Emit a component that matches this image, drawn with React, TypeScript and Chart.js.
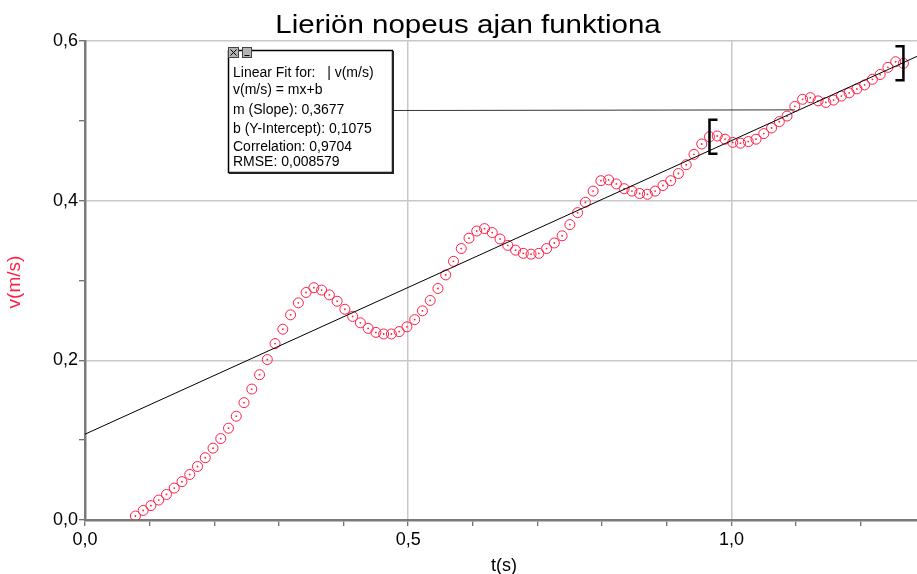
import React, { useEffect, useRef } from 'react';
import { Chart, registerables } from 'chart.js';

Chart.register(...registerables);

// ---- data ----
const TIME_S = [
  0.078, 0.090, 0.102, 0.114, 0.126, 0.138, 0.150, 0.162, 0.174, 0.186,
  0.198, 0.210, 0.222, 0.234, 0.246, 0.258, 0.270, 0.282, 0.294, 0.306,
  0.318, 0.330, 0.342, 0.354, 0.366, 0.378, 0.390, 0.402, 0.414, 0.426,
  0.438, 0.450, 0.462, 0.474, 0.486, 0.498, 0.510, 0.522, 0.534, 0.546,
  0.558, 0.570, 0.582, 0.594, 0.606, 0.618, 0.630, 0.642, 0.654, 0.666,
  0.678, 0.690, 0.702, 0.714, 0.726, 0.738, 0.750, 0.762, 0.774, 0.786,
  0.798, 0.810, 0.822, 0.834, 0.846, 0.858, 0.870, 0.882, 0.894, 0.906,
  0.918, 0.930, 0.942, 0.954, 0.966, 0.978, 0.990, 1.002, 1.014, 1.026,
  1.038, 1.050, 1.062, 1.074, 1.086, 1.098, 1.110, 1.122, 1.134, 1.146,
  1.158, 1.170, 1.182, 1.194, 1.206, 1.218, 1.230, 1.242, 1.254, 1.266,
];

const SPEED_MS = [
  0.005, 0.012, 0.018, 0.025, 0.032, 0.040, 0.048, 0.057, 0.067, 0.078,
  0.090, 0.102, 0.115, 0.130, 0.147, 0.164, 0.182, 0.201, 0.221, 0.239,
  0.257, 0.272, 0.285, 0.291, 0.288, 0.282, 0.274, 0.264, 0.255, 0.247,
  0.240, 0.235, 0.233, 0.233, 0.236, 0.242, 0.251, 0.262, 0.275, 0.290,
  0.307, 0.324, 0.340, 0.353, 0.362, 0.365, 0.360, 0.352, 0.344, 0.338,
  0.334, 0.333, 0.334, 0.340, 0.347, 0.356, 0.370, 0.385, 0.398, 0.412,
  0.425, 0.426, 0.421, 0.415, 0.412, 0.409, 0.408, 0.412, 0.419, 0.425,
  0.434, 0.445, 0.458, 0.471, 0.480, 0.481, 0.477, 0.473, 0.472, 0.474,
  0.477, 0.484, 0.491, 0.499, 0.506, 0.518, 0.527, 0.529, 0.525, 0.523,
  0.526, 0.531, 0.535, 0.540, 0.545, 0.552, 0.558, 0.567, 0.574, 0.572,
];

const FIT_SLOPE = 0.3677;
const FIT_INTERCEPT = 0.1075;
const FIT_RANGE = [0.966, 1.266];
const FIT_LABEL_T = 1.098;

const X_RANGE = [0, 1.287];
const Y_RANGE = [0, 0.6];
const X_MINOR_STEP = 0.1;
const X_MAJOR_STEP = 0.5;
const Y_MINOR_STEP = 0.1;
const Y_MAJOR_STEP = 0.2;

const TITLE = 'Lieriön nopeus ajan funktiona';
const X_TITLE = 't(s)';
const Y_TITLE = 'v(m/s)';
const FIT_INFO = [
  'Linear Fit for:   | v(m/s)',
  'v(m/s) = mx+b',
  'm (Slope): 0,3677',
  'b (Y-Intercept): 0,1075',
  'Correlation: 0,9704',
  'RMSE: 0,008579',
];

const FONT = '"Liberation Sans", Arial, sans-serif';
const RED = 'rgb(255, 30, 70)';

const isMajor = (v: number, minor: number, major: number) => {
  const k = Math.round(v / minor);
  const m = Math.round(major / minor);
  return k % m === 0;
};
const fmt = (v: number) => v.toFixed(1).replace('.', ',');

const overlayPlugin = {
  id: 'overlay',
  afterDraw(chart: any) {
    const ctx = chart.ctx as CanvasRenderingContext2D;
    const xs = chart.scales.x;
    const ys = chart.scales.y;
    ctx.save();

    // Title (slightly wide face as in the reference)
    ctx.fillStyle = '#000';
    ctx.font = `25px ${FONT}`;
    ctx.textAlign = 'center';
    ctx.textBaseline = 'alphabetic';
    ctx.save();
    ctx.translate(468, 33);
    ctx.scale(1.18, 1);
    ctx.fillText(TITLE, 0, 0);
    ctx.restore();

    // X axis title
    ctx.font = `18px ${FONT}`;
    ctx.fillText(X_TITLE, 504, 571);

    // Y axis title
    ctx.save();
    ctx.translate(15, 282);
    ctx.rotate(-Math.PI / 2);
    ctx.fillStyle = RED;
    ctx.font = `19px ${FONT}`;
    ctx.textBaseline = 'middle';
    ctx.fillText(Y_TITLE, 0, 0);
    ctx.restore();

    // Connector from the info box to the fit line
    const fitAt = (t: number) => FIT_SLOPE * t + FIT_INTERCEPT;
    ctx.strokeStyle = '#333';
    ctx.lineWidth = 1;
    ctx.beginPath();
    ctx.moveTo(392, 110.5);
    ctx.lineTo(xs.getPixelForValue(FIT_LABEL_T), ys.getPixelForValue(fitAt(FIT_LABEL_T)) - 2);
    ctx.stroke();

    // Fit range brackets
    const nearest = (t: number) => {
      let best = 0;
      for (let i = 0; i < TIME_S.length; i++) {
        if (Math.abs(TIME_S[i] - t) < Math.abs(TIME_S[best] - t)) best = i;
      }
      return SPEED_MS[best];
    };
    ctx.strokeStyle = '#000';
    ctx.lineWidth = 2.5;
    FIT_RANGE.forEach((t, i) => {
      const px = xs.getPixelForValue(t);
      const py = ys.getPixelForValue(nearest(t));
      const dir = i === 0 ? 1 : -1;
      ctx.beginPath();
      ctx.moveTo(px + dir * 8, py - 17);
      ctx.lineTo(px, py - 17);
      ctx.lineTo(px, py + 17);
      ctx.lineTo(px + dir * 8, py + 17);
      ctx.stroke();
    });

    // Info box
    const bx = 228, by = 50, bw = 164, bh = 122;
    ctx.fillStyle = '#fff';
    ctx.fillRect(bx, by, bw, bh);
    ctx.strokeStyle = '#000';
    ctx.lineWidth = 1.5;
    ctx.strokeRect(bx + 0.5, by + 0.5, bw, bh);
    ctx.fillStyle = '#222';
    ctx.fillRect(bx + bw, by + 1, 2, bh + 1);
    ctx.fillRect(bx + 1, by + bh, bw + 1, 2);

    // small window buttons
    ctx.fillStyle = '#b4b4b4';
    ctx.fillRect(228, 47, 11, 11);
    ctx.fillRect(242, 47, 10, 11);
    ctx.strokeStyle = '#444';
    ctx.lineWidth = 1;
    ctx.strokeRect(228.5, 47.5, 10, 10);
    ctx.strokeRect(242.5, 47.5, 9, 10);
    ctx.strokeStyle = '#000';
    ctx.beginPath();
    ctx.moveTo(230.5, 49.5); ctx.lineTo(236.5, 55.5);
    ctx.moveTo(236.5, 49.5); ctx.lineTo(230.5, 55.5);
    ctx.moveTo(244.5, 55.5); ctx.lineTo(249.5, 55.5);
    ctx.stroke();

    ctx.fillStyle = '#000';
    ctx.font = `14px ${FONT}`;
    ctx.textAlign = 'left';
    ctx.textBaseline = 'middle';
    const lineY = [73, 90, 110, 129, 147, 162];
    FIT_INFO.forEach((s, i) => ctx.fillText(s, 233, lineY[i]));

    ctx.restore();
  },
};

export default function App() {
  const canvasRef = useRef<HTMLCanvasElement | null>(null);

  useEffect(() => {
    document.body.style.margin = '0';
    const canvas = canvasRef.current;
    if (!canvas) return;

    const points = TIME_S.map((t, i) => ({ x: t, y: SPEED_MS[i] }));
    const fitLine = X_RANGE.map((t) => ({ x: t, y: FIT_SLOPE * t + FIT_INTERCEPT }));

    const chart = new Chart(canvas, {
      type: 'scatter',
      data: {
        datasets: [
          {
            type: 'line',
            data: fitLine,
            borderColor: '#000',
            borderWidth: 1,
            pointRadius: 0,
            fill: false,
          } as any,
          {
            data: points,
            pointRadius: 5,
            pointBorderWidth: 1,
            pointBorderColor: RED,
            pointBackgroundColor: 'rgba(0,0,0,0)',
            borderColor: RED,
            backgroundColor: 'rgba(0,0,0,0)',
          },
          {
            data: points,
            pointRadius: 0.9,
            pointBorderWidth: 0,
            pointBackgroundColor: RED,
            backgroundColor: RED,
          },
        ],
      },
      options: {
        animation: false,
        responsive: false,
        events: [],
        layout: { autoPadding: false, padding: { top: 41, left: 0, right: 0, bottom: 0 } },
        plugins: {
          legend: { display: false },
          title: { display: false },
          tooltip: { enabled: false },
        },
        scales: {
          x: {
            type: 'linear',
            min: X_RANGE[0],
            max: X_RANGE[1],
            afterFit: (s: any) => { s.height = 54; s.paddingRight = 0; s.paddingLeft = 0; },
            ticks: {
              stepSize: X_MINOR_STEP,
              includeBounds: false,
              autoSkip: false,
              maxRotation: 0,
              padding: 3,
              color: '#000',
              font: { family: FONT, size: 18 },
              callback: (v: any) => (isMajor(Number(v), X_MINOR_STEP, X_MAJOR_STEP) ? fmt(Number(v)) : ''),
            },
            grid: {
              color: (c: any) =>
                c.tick && isMajor(c.tick.value, X_MINOR_STEP, X_MAJOR_STEP) ? '#c8c8c8' : 'rgba(0,0,0,0)',
              tickColor: '#444',
              tickLength: 6,
              lineWidth: 1.5,
              tickWidth: 1,
            },
            border: { color: '#7a7a7a', width: 2.5 },
          },
          y: {
            type: 'linear',
            min: Y_RANGE[0],
            max: Y_RANGE[1],
            afterFit: (s: any) => { s.width = 85; s.paddingTop = 0; s.paddingBottom = 0; },
            ticks: {
              stepSize: Y_MINOR_STEP,
              includeBounds: false,
              autoSkip: false,
              padding: 1,
              color: '#000',
              font: { family: FONT, size: 18 },
              callback: (v: any) => (isMajor(Number(v), Y_MINOR_STEP, Y_MAJOR_STEP) ? fmt(Number(v)) : ''),
            },
            grid: {
              color: (c: any) =>
                c.tick && isMajor(c.tick.value, Y_MINOR_STEP, Y_MAJOR_STEP) ? '#c8c8c8' : 'rgba(0,0,0,0)',
              tickColor: '#444',
              tickLength: 6,
              lineWidth: 1.5,
              tickWidth: 1,
            },
            border: { color: '#7a7a7a', width: 2.5 },
          },
        },
      },
      plugins: [overlayPlugin],
    });

    return () => chart.destroy();
  }, []);

  return (
    <div style={{ width: 917, height: 574 }}>
      <canvas ref={canvasRef} width={917} height={574} style={{ display: 'block' }} />
    </div>
  );
}
